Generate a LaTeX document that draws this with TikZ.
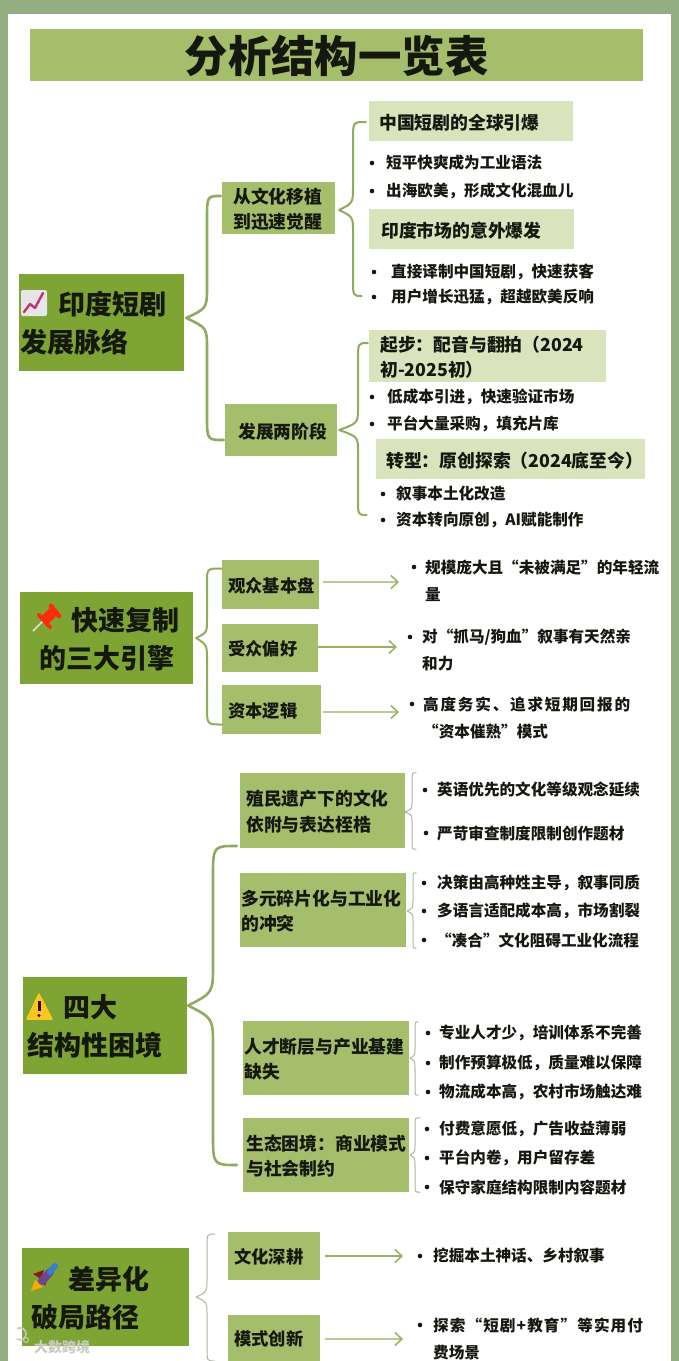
\documentclass[tikz,border=0pt]{standalone}
\usepackage{fontspec}
\usetikzlibrary{calc,arrows.meta}
\setmainfont{Noto Sans CJK SC}
\newfontfamily\cjk{Noto Sans CJK SC}
\newfontfamily\cjkw{Noto Sans CJK SC}[LetterSpace=11.5]
\newfontfamily\cjkv{Noto Sans CJK SC}[LetterSpace=7]
\definecolor{frameg}{HTML}{93AE80}
\definecolor{darkg}{HTML}{7EA434}
\definecolor{midg}{HTML}{A5BE6C}
\definecolor{lightg}{HTML}{D9E4BD}
\definecolor{lineg}{HTML}{8FAB5F}
\definecolor{thing}{HTML}{A9B99B}
\definecolor{arrowg}{HTML}{98B060}
\definecolor{inkk}{HTML}{14180F}
\definecolor{wmg}{HTML}{C6CAC0}
\tikzset{
  rootbox/.style={fill=darkg},
  midbox/.style={fill=midg},
  lightbox/.style={fill=lightg},
  lbl/.style={align=left,inner sep=0pt,text=inkk},
  f15/.style={font=\cjk\bfseries\fontsize{15.6bp}{27bp}\selectfont},
  f18/.style={font=\cjk\bfseries\fontsize{17.8bp}{25.5bp}\selectfont},
  f17/.style={font=\cjk\bfseries\fontsize{17.3bp}{25.5bp}\selectfont},
  f27/.style={font=\cjk\bfseries\fontsize{27bp}{38bp}\selectfont},
  thickbrace/.style={draw=lineg,line width=2.6bp,line cap=round},
  medbrace/.style={draw=lineg,line width=2bp,line cap=round},
  thinbrace/.style={draw=thing,line width=1bp,line cap=round},
  flowarrow/.style={draw=arrowg,line width=1.2bp,-{Straight Barb[length=7bp,width=13bp,line width=1.5bp]}},
}
\newcommand\bx[9]{%
  \pgfmathsetmacro\cxx{(#3+#5)/2}\pgfmathsetmacro\cyy{(#4+#6)/2}%
  \pgfmathsetmacro\ww{#5-#3}\pgfmathsetmacro\hh{#6-#4}%
  \node[#2,inner sep=0pt,minimum width=\ww bp,minimum height=\hh bp] (#1) at (\cxx,\cyy) {};
  \node[lbl,#8,anchor=west,yshift=-1.2bp] (#1t) at (#7,\cyy) {#9};}
\newcommand\bul[5]{%
  \node[inner sep=0pt,circle,fill=inkk,minimum size=4.6bp] (#1d) at (#2,#4) {};
  \node[lbl,f15,anchor=west] (#1) at (#3,#4) {#5};}
\newcommand\bulb[6]{%
  \node[inner sep=0pt,circle,fill=inkk,minimum size=4.6bp] (#1d) at (#2,#4) {};
  \pgfmathsetmacro\myy{(#4+#5)/2}%
  \node[lbl,f15,anchor=west] (#1) at (#3,\myy) {#6};}
\newcommand\leg[4]{%
  \coordinate (spine) at (#3,0);
  \draw[#1] let \p1=(#2),\p2=(#4),\p3=(spine),\n1={\y2-\y1} in
    (\p1) .. controls (\x3,{\y1+0.08*\n1}) .. (\x3,{\y1+0.26*\n1})
    -- (\x3,{\y2-0.2*\n1}) .. controls (\x3,\y2) .. (\x2,\y2);}
\begin{document}
\begin{tikzpicture}[x=1bp,y=-1bp]
\useasboundingbox (0,0) rectangle (679,1361);
\fill[frameg] (0,0) rectangle (679,1361);
\fill[white] (8,14) rectangle (671,1361);

% title
\node[midbox,inner sep=0pt,minimum width=613bp,minimum height=52bp] (title) at (336.5,55) {};
\node[inner sep=0pt,text=inkk,font=\cjk\bfseries\fontsize{43.4bp}{50bp}\selectfont] (titlet) at (336.5,56) {分析结构一览表};

% section 1
\bx{r1}{rootbox}{19}{274}{184}{371}{20}{f27}{\hspace*{38bp}印度短剧\\发展脉络}
\bx{a1}{midbox}{222}{182}{335}{234}{233}{f18}{从文化移植\\到迅速觉醒}
\bx{a2}{midbox}{225}{404}{337}{456}{238}{f18}{发展两阶段}
\bx{s1}{lightbox}{369}{101}{573}{141}{379}{f18}{中国短剧的全球引爆}
\bul{b1}{372}{386}{163}{短平快爽成为工业语法}
\bul{b2}{372}{386}{191}{出海欧美，形成文化混血儿}
\bx{s2}{lightbox}{369}{209}{574}{249}{381}{f18}{印度市场的意外爆发}
\bul{b3}{374}{391}{272}{直接译制中国短剧，快速获客}
\bul{b4}{374}{391}{297}{用户增长迅猛，超越欧美反响}
\bx{s3}{lightbox}{369}{330}{606}{382}{380}{f18}{起步：配音与翻拍（2024\\初-2025初）}
\bul{b5}{372}{387}{397}{低成本引进，快速验证市场}
\bul{b6}{372}{387}{424}{平台大量采购，填充片库}
\bx{s4}{lightbox}{376}{439}{645}{479}{386}{f18}{转型：原创探索（2024底至今）}
\bul{b7}{383}{396}{494}{叙事本土化改造}
\bul{b8}{383}{396}{520}{资本转向原创，AI赋能制作}

\leg{thickbrace}{[shift={(2,-4.5)}]r1.east}{207}{[shift={(-1,-12)}]a1.west}
\leg{thickbrace}{[shift={(2,-4.5)}]r1.east}{207}{[shift={(-1,10)}]a2.west}
\leg{medbrace}{[shift={(4,2)}]a1.east}{353}{[shift={(-3,1)}]s1.west}
\leg{medbrace}{[shift={(4,2)}]a1.east}{353}{[shift={(-10,-1)}]b4d.west}
\leg{medbrace}{[shift={(2,0)}]a2.east}{358}{[shift={(-1,-13)}]s3.west}
\leg{medbrace}{[shift={(2,0)}]a2.east}{358}{[shift={(-14,-5)}]b8d.west}

% section 2
\bx{r2}{rootbox}{20}{592}{193}{684}{33}{f27}{\hspace*{38bp}快速复制\\\hspace*{6bp}的三大引擎}
\bx{c1}{midbox}{222}{560}{319}{609}{228}{f17}{观众基本盘}
\bx{c2}{midbox}{222}{624}{318}{672}{228}{f17}{受众偏好}
\bx{c3}{midbox}{222}{685}{321}{734}{228}{f17}{资本逻辑}
\bulb{d1}{414}{425}{567}{594}{规模庞大且“未被满足”的年轻流\\量}
\bulb{d2}{410}{422}{637}{664}{对“抓马/狗血”叙事有天然亲\\和力}
\bulb{d3}{412}{423}{704}{731}{{\cjkw\bfseries 高度务实、追求短期回报的}\\“资本催熟”模式}
\leg{medbrace}{[shift={(3,0)}]r2.east}{207}{[shift={(0,-16)}]c1.west}
\leg{medbrace}{[shift={(3,0)}]r2.east}{207}{[shift={(0,15)}]c3.west}
\draw[flowarrow] ([shift={(4,-2.5)}]c1.east) -- ([shift={(-26,1.5)}]d1.west);
\draw[flowarrow] ([shift={(0,-1)}]c2.east) -- ([shift={(-25,-3.5)}]d2.west);
\draw[flowarrow] ([shift={(2,2.5)}]c3.east) -- ([shift={(-24,-5.5)}]d3.west);

% section 3
\bx{r3}{rootbox}{23}{977}{187}{1074}{27}{f27}{\hspace*{36bp}四大\\结构性困境}
\bx{e1}{midbox}{240}{773}{405}{848}{246}{f18}{殖民遗产下的文化\\依附与表达桎梏}
\bx{e2}{midbox}{240}{873}{406}{947}{241}{f18}{多元碎片化与工业化\\的冲突}
\bx{e3}{midbox}{243}{1021}{409}{1095}{244}{f18}{人才断层与产业基建\\缺失}
\bx{e4}{midbox}{243}{1118}{409}{1192}{246}{f18}{生态困境：商业模式\\与社会制约}
\bul{g1}{425}{437}{790}{英语优先的文化等级观念延续}
\bul{g2}{426}{437}{833}{严苛审查制度限制创作题材}
\bul{g3}{424}{437}{883}{决策由高种姓主导，叙事同质}
\bul{g4}{424}{437}{911}{多语言适配成本高，市场割裂}
\bul{g5}{424}{436}{940}{“凑合”文化阻碍工业化流程}
\bul{g6}{428}{439}{1033}{专业人才少，培训体系不完善}
\bul{g7}{428}{439}{1063}{制作预算极低，质量难以保障}
\bul{g8}{428}{439}{1092}{物流成本高，农村市场触达难}
\bul{g9}{427}{439}{1129}{付费意愿低，广告收益薄弱}
\bul{g10}{427}{439}{1158}{平台内卷，用户留存差}
\bul{g11}{427}{439}{1187}{保守家庭结构限制内容题材}
\leg{thickbrace}{[shift={(1,-20)}]r3.east}{213}{[shift={(-3,35.5)}]e1.west}
\leg{thickbrace}{[shift={(1,-20)}]r3.east}{213}{[shift={(-6,10)}]e4.west}
\leg{thinbrace}{[shift={(0,1.5)}]e1.east}{412}{[shift={(11,0)}]e1.north east}
\leg{thinbrace}{[shift={(0,1.5)}]e1.east}{412}{[shift={(11,1)}]e1.south east}
\leg{thinbrace}{[shift={(1,1)}]e2.east}{413}{[shift={(10,0)}]e2.north east}
\leg{thinbrace}{[shift={(1,1)}]e2.east}{413}{[shift={(10,1)}]e2.south east}
\leg{thinbrace}{[shift={(1,0)}]e3.east}{415}{[shift={(9,1)}]e3.north east}
\leg{thinbrace}{[shift={(1,0)}]e3.east}{415}{[shift={(9,0)}]e3.south east}
\leg{thinbrace}{[shift={(1,0)}]e4.east}{415}{[shift={(11,0)}]e4.north east}
\leg{thinbrace}{[shift={(1,0)}]e4.east}{415}{[shift={(11,0)}]e4.south east}

% section 4
\bx{r4}{rootbox}{22}{1248}{189}{1346}{30}{f27}{\hspace*{38bp}差异化\\\hspace*{1bp}破局路径}
\bx{h1}{midbox}{228}{1232}{320}{1280}{234}{f17}{文化深耕}
\bx{h2}{midbox}{228}{1315}{320}{1361}{234}{f17}{模式创新}
\bul{k1}{420}{433}{1256}{挖掘本土神话、乡村叙事}
\bulb{k2}{420}{433}{1325}{1352}{{\cjkv\bfseries 探索“短剧+教育”等实用付}\\费场景}
\leg{thinbrace}{[shift={(7,0)}]r4.east}{207}{[shift={(-13,-22)}]h1.west}
\leg{thinbrace}{[shift={(7,0)}]r4.east}{207}{[shift={(-13,23)}]h2.west}
\draw[flowarrow] ([shift={(5,0)}]h1.east) -- ([shift={(-30,0)}]k1.west);
\draw[flowarrow] ([shift={(5,1)}]h2.east) -- ([shift={(-30,0.5)}]k2.west);

% chart icon
\fill[fill=blue!8!gray!18,rounded corners=2bp] (21,290) rectangle (47,316);
\draw[draw=red!70!blue!80,line width=2.4bp,line join=round,line cap=round] (24,312) -- (30,304) -- (35,308) -- (43,293);
% pin icon
\draw[gray!25,line width=1.6bp] (33,631) -- (43,621);
\draw[red!75!orange!95,line width=10bp] (45,620) -- (54,611);
\draw[red!75!orange!95,line width=4bp,line cap=round] (39,615) -- (50,627);
\draw[red!75!orange!95,line width=4.6bp,line cap=round] (51,606) -- (59,616);
% warning icon
\fill[yellow!55!orange!90!white,draw=yellow!55!orange!90!white,line width=1.5bp,line join=round] (39,994) -- (52,1019) -- (27,1019) -- cycle;
\draw[black!75!red,line width=3bp] (39,1001) -- (39,1011);
\fill[black!75!red] (39,1015.5) circle (1.7);
% rocket icon
\fill[orange!70!yellow] (31,1291) -- (35,1280) -- (43,1287) -- cycle;
\fill[red!50!black!90] (33,1274) -- (44,1270) -- (41,1279) -- cycle;
\fill[red!50!black!90] (45,1286) -- (49,1275) -- (41,1279) -- cycle;
\draw[blue!35!gray!85!red,line width=8bp,line cap=round] (42,1281) -- (50,1272);
\draw[cyan!55!blue!85,line width=6bp,line cap=round] (50,1272) -- (55,1266);

% watermark
\node[inner sep=0pt,anchor=west,text=wmg,font=\cjk\bfseries\fontsize{14bp}{14bp}\selectfont] (wm) at (34,1347) {大数跨境};
\draw[wmg,line width=1.6bp] (17,1339) arc (-60:-300:-6) ;
\node[inner sep=0pt,circle,draw=wmg,line width=1bp,minimum size=5bp] (wmlogo) at (26,1340) {};
\end{tikzpicture}
\end{document}
